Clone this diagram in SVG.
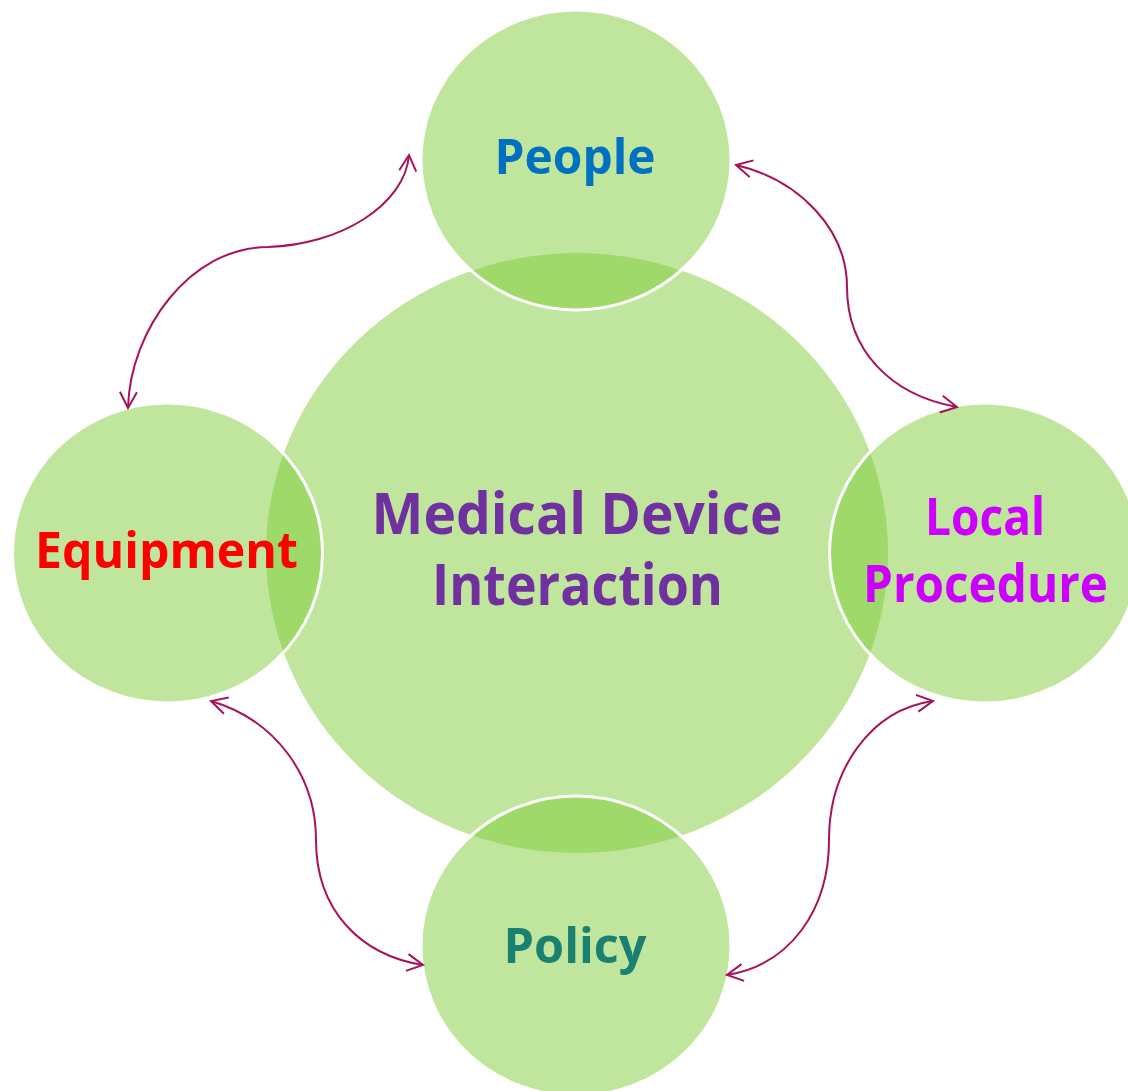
<svg xmlns="http://www.w3.org/2000/svg" width="1128" height="1091" viewBox="0 0 1128 1091">
<defs>
<style>
.c{fill:rgb(122,201,48);fill-opacity:0.47}
.s{stroke:#ffffff;stroke-width:3}
.t{font-family:"Open Sans","Noto Sans",sans-serif;font-weight:bold;text-anchor:middle}
.k{fill:none;stroke:#A8125A;stroke-width:2;marker-start:url(#ah);marker-end:url(#ah)}
</style>
<marker id="ah" viewBox="0 0 20 20" refX="18" refY="10" markerWidth="20" markerHeight="20" markerUnits="userSpaceOnUse" orient="auto-start-reverse">
<path d="M2,1.5 L18,10 L2,18.5" fill="none" stroke="#A8125A" stroke-width="2"/>
</marker>
</defs>
<rect width="1128" height="1091" fill="#ffffff"/>
<g id="center">
<ellipse class="c" cx="577" cy="553" rx="311" ry="300"/>
<text class="t" x="577" y="534" font-size="57" fill="#7030A0" textLength="411" lengthAdjust="spacingAndGlyphs">Medical Device</text>
<text class="t" x="577.5" y="605" font-size="57" fill="#7030A0" textLength="291" lengthAdjust="spacingAndGlyphs">Interaction</text>
</g>
<g id="people">
<ellipse class="c s" cx="576" cy="160" rx="155" ry="150"/>
<text class="t" x="575" y="174" font-size="49" fill="#0070C0" textLength="161" lengthAdjust="spacingAndGlyphs">People</text>
</g>
<g id="equipment">
<ellipse class="c s" cx="167.5" cy="553" rx="155" ry="150"/>
<text class="t" x="166.5" y="568" font-size="50" fill="#FF0000" textLength="263" lengthAdjust="spacingAndGlyphs">Equipment</text>
</g>
<g id="local-procedure">
<ellipse class="c s" cx="984.5" cy="553" rx="155" ry="150"/>
<text class="t" x="985" y="535" font-size="52" fill="#CC00FF" textLength="120" lengthAdjust="spacingAndGlyphs">Local</text>
<text class="t" x="985.5" y="602" font-size="52" fill="#CC00FF" textLength="245" lengthAdjust="spacingAndGlyphs">Procedure</text>
</g>
<g id="policy">
<ellipse class="c s" cx="576" cy="946" rx="155" ry="150"/>
<text class="t" x="575" y="963" font-size="49" fill="#1A8070" textLength="143" lengthAdjust="spacingAndGlyphs">Policy</text>
</g>
<g id="connectors">
<path class="k" d="M128,408 C130,330 190,247 268,247 C340,245 405,205 409,155"/>
<path class="k" d="M736,165 C800,180 847,230 847,287 C847,350 890,395 957,407"/>
<path class="k" d="M211,701 C275,720 316,775 316,840 C316,910 360,955 423,965"/>
<path class="k" d="M933,701 C870,710 829,770 829,840 C829,910 790,965 727,975"/>
</g>
</svg>
